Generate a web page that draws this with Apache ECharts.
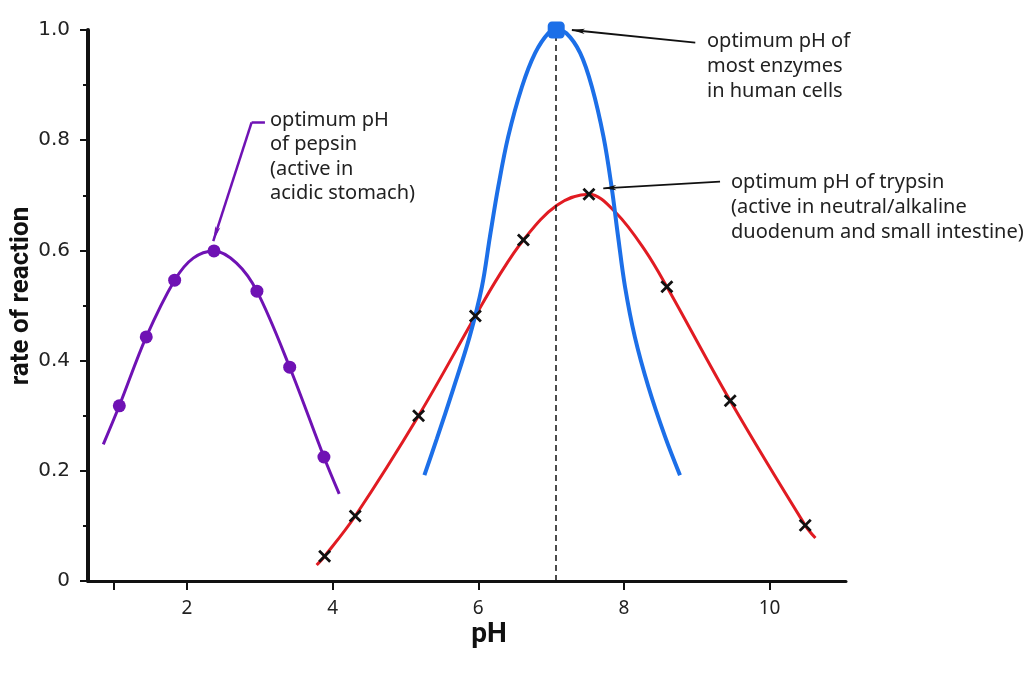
<!DOCTYPE html>
<html><head><meta charset="utf-8">
<script src="https://cdn.jsdelivr.net/npm/echarts@6/dist/echarts.min.js"></script>
<style>html,body{margin:0;padding:0;background:#fff;} #c{width:1024px;height:682px;}</style>
</head><body><div id="c"></div>
<script>
// ---- data ----
// measured points (markers)
const pepsinPH   = [1.07, 1.44, 1.83, 2.37, 2.96, 3.41, 3.88];
const pepsinRate = [0.318, 0.443, 0.546, 0.599, 0.526, 0.388, 0.225];
const trypsinPH   = [3.89, 4.31, 5.18, 5.96, 6.62, 7.52, 8.59, 9.46, 10.49];
const trypsinRate = [0.045, 0.118, 0.300, 0.481, 0.619, 0.702, 0.534, 0.327, 0.101];
const humanOptimum = [7.07, 1.0];

// fitted curves
const pepsinCurvePH   = [0.85, 1.07, 1.44, 1.83, 2.085, 2.37, 2.68, 2.96, 3.41, 3.88, 4.09];
const pepsinCurveRate = [0.248, 0.318, 0.443, 0.546, 0.586, 0.599, 0.577, 0.526, 0.388, 0.225, 0.158];
const trypsinCurvePH   = [3.78, 3.89, 4.31, 5.18, 5.96, 6.275, 6.62, 7.08, 7.52, 7.90, 8.29, 8.59, 9.46, 10.49, 10.63];
const trypsinCurveRate = [0.029, 0.045, 0.118, 0.300, 0.481, 0.552, 0.619, 0.682, 0.702, 0.667, 0.600, 0.534, 0.327, 0.101, 0.078];
const humanCurvePH   = [5.26, 5.43, 5.66, 5.88, 6.05, 6.16, 6.275, 6.41, 6.60, 6.78, 6.96, 7.07, 7.21, 7.40, 7.56, 7.72, 7.83, 7.92, 8.015, 8.15, 8.335, 8.565, 8.77];
const humanCurveRate = [0.192, 0.258, 0.350, 0.443, 0.534, 0.625, 0.716, 0.806, 0.897, 0.958, 0.994, 1.0, 0.994, 0.958, 0.897, 0.806, 0.716, 0.625, 0.534, 0.443, 0.353, 0.262, 0.192];

const xTickValues  = [1, 2, 4, 6, 8, 10];
const xLabelValues = [2, 4, 6, 8, 10];
const yLabelValues = [0, 0.2, 0.4, 0.6, 0.8, 1.0];

// annotation arrows (data coordinates)
const pepsinArrow  = [[3.07, 0.8325], [2.887, 0.8325], [2.36, 0.617]];
const enzymeArrow  = [[8.98, 0.977], [7.285, 1.0]];
const trypsinArrow = [[9.32, 0.725], [7.717, 0.7127]];

const pepsinText  = 'optimum pH\nof pepsin\n(active in\nacidic stomach)';
const enzymeText  = 'optimum pH of\nmost enzymes\nin human cells';
const trypsinText = 'optimum pH of trypsin\n(active in neutral/alkaline\nduodenum and small intestine)';

// ---- build ----
const zip = (xs, ys) => xs.map((x, i) => [x, ys[i]]);

const PURPLE = '#6f12b4', RED = '#e11b22', BLUE = '#1c6fe8', INK = '#111';
const crossPath = 'path://M0,1.5L1.5,0L5,3.5L8.5,0L10,1.5L6.5,5L10,8.5L8.5,10L5,6.5L1.5,10L0,8.5L3.5,5Z';

const chart = echarts.init(document.getElementById('c'), null, {renderer: 'canvas'});
chart.setOption({
  animation: false,
  backgroundColor: '#fff',
  grid: {left: 88, right: 178, top: 30, bottom: 101, containLabel: false, outerBoundsMode: 'none'},
  xAxis: {
    type: 'value', min: 0.64, max: 11.05,
    name: 'pH', nameLocation: 'middle', nameGap: 40, nameMoveOverlap: false,
    nameTextStyle: {fontFamily: 'Roboto', fontWeight: 'bold', fontSize: 28, color: INK, padding: [0, 0, 0, 44]},
    axisLine: {show: true, onZero: false, lineStyle: {color: INK, width: 3}},
    axisTick: {show: true, length: 9, customValues: xTickValues, lineStyle: {color: INK, width: 2}},
    axisLabel: {customValues: xLabelValues, margin: 18, fontFamily: 'Noto Sans', fontSize: 19, color: '#222'},
    splitLine: {show: false}
  },
  yAxis: {
    type: 'value', min: 0, max: 1, interval: 0.2,
    name: 'rate of reaction', nameLocation: 'middle', nameGap: 54, nameMoveOverlap: false,
    nameTextStyle: {fontFamily: 'Roboto', fontWeight: 'bold', fontSize: 26, color: INK, padding: [0, 0, 0, 19]},
    axisLine: {show: true, onZero: false, lineStyle: {color: INK, width: 4}},
    axisTick: {show: true, length: 8, lineStyle: {color: INK, width: 2}},
    minorTick: {show: true, splitNumber: 2, length: 5, lineStyle: {color: INK, width: 2}},
    axisLabel: {margin: 18, fontFamily: 'DejaVu Sans', fontSize: 20, color: '#222',
      customValues: yLabelValues,
      formatter: v => (v === 0 ? '0' : v.toFixed(1))},
    splitLine: {show: false}, minorSplitLine: {show: false}
  },
  graphic: [
    {type: 'text', left: 270, top: 108, style: {text: pepsinText, fontFamily: 'Noto Sans', fontSize: 20, lineHeight: 24.5, fill: '#222'}},
    {type: 'text', left: 707, top: 29, style: {text: enzymeText, fontFamily: 'Noto Sans', fontSize: 20, lineHeight: 24.8, fill: '#222'}},
    {type: 'text', left: 731, top: 170, style: {text: trypsinText, fontFamily: 'Noto Sans', fontSize: 20, lineHeight: 25, fill: '#222'}}
  ],
  series: [
    {
      name: 'pepsin curve', type: 'line', smooth: 0.35, showSymbol: false, clip: false,
      data: zip(pepsinCurvePH, pepsinCurveRate),
      lineStyle: {color: PURPLE, width: 3}, z: 2
    },
    {
      name: 'pepsin', type: 'scatter', data: zip(pepsinPH, pepsinRate), symbol: 'circle', symbolSize: 13, clip: false,
      itemStyle: {color: PURPLE, opacity: 1}, z: 3,
      markLine: {
        silent: true, animation: false, label: {show: false},
        symbol: ['none', 'arrow'], symbolSize: [4, 15],
        lineStyle: {color: PURPLE, width: 2.5, type: 'solid'},
        data: [
          [{coord: pepsinArrow[0], symbol: 'none'}, {coord: pepsinArrow[1], symbol: 'none'}],
          [{coord: pepsinArrow[1], symbol: 'none'}, {coord: pepsinArrow[2], symbol: 'arrow'}]
        ]
      }
    },
    {
      name: 'trypsin curve', type: 'line', smooth: 0.35, showSymbol: false, clip: false,
      data: zip(trypsinCurvePH, trypsinCurveRate),
      lineStyle: {color: RED, width: 3}, z: 2
    },
    {
      name: 'human enzymes', type: 'line', smooth: 0.35, showSymbol: false, clip: false,
      data: zip(humanCurvePH, humanCurveRate),
      lineStyle: {color: BLUE, width: 4}, z: 2,
      markLine: {
        silent: true, animation: false, label: {show: false}, symbol: ['none', 'none'],
        lineStyle: {color: INK, width: 1.5, type: [6, 4]},
        data: [[{coord: [humanOptimum[0], 0]}, {coord: humanOptimum}]]
      }
    },
    {
      name: 'trypsin', type: 'scatter', data: zip(trypsinPH, trypsinRate), symbol: crossPath, symbolSize: 13, clip: false,
      itemStyle: {color: INK, opacity: 1}, z: 4,
      markLine: {
        silent: true, animation: false, label: {show: false},
        symbol: ['none', 'arrow'], symbolSize: [4, 13],
        lineStyle: {color: INK, width: 1.8, type: 'solid'},
        data: [
          [{coord: trypsinArrow[0]}, {coord: trypsinArrow[1]}],
          [{coord: enzymeArrow[0]}, {coord: enzymeArrow[1]}]
        ]
      }
    },
    {
      name: 'optimum', type: 'scatter', data: [humanOptimum], symbol: 'roundRect', symbolSize: 17, clip: false,
      itemStyle: {color: BLUE, opacity: 1}, z: 5
    }
  ]
});
</script>
</body></html>
